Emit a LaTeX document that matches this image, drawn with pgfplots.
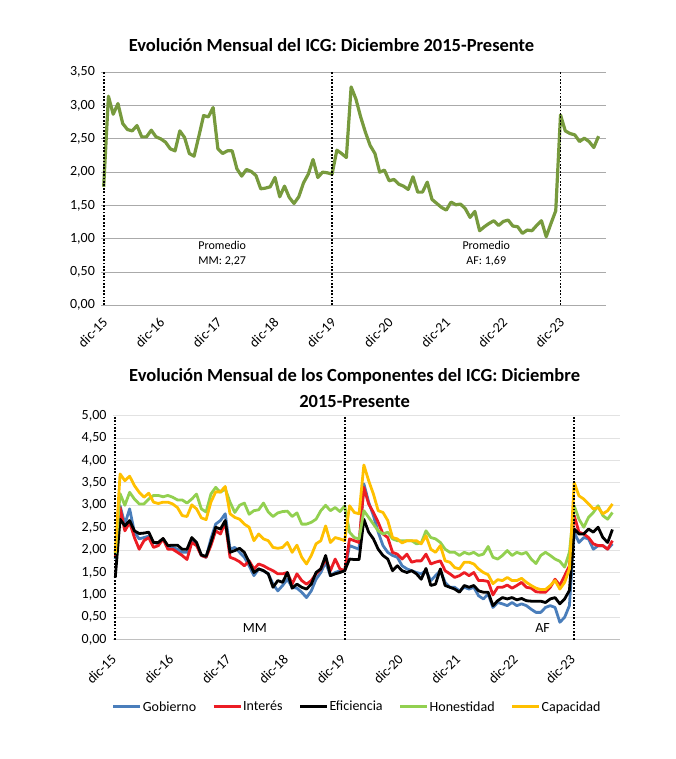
\documentclass[border=0pt]{standalone}
\usepackage{graphicx}
\usepackage{pgfplots}
\pgfplotsset{compat=1.18}
\usepackage{pgfplotstable}
\usepackage{fontspec}
\setmainfont{Carlito}

\definecolor{colicg}{RGB}{119,154,61}
\definecolor{colgob}{RGB}{74,126,187}
\definecolor{colint}{RGB}{236,28,36}
\definecolor{colhon}{RGB}{146,208,80}
\definecolor{colcap}{RGB}{255,192,0}
\definecolor{gridA}{RGB}{170,170,170}
\definecolor{gridB}{RGB}{226,226,226}

\pgfplotstableread{
m icg
0 1.78
1 3.14
2 2.87
3 3.03
4 2.73
5 2.64
6 2.62
7 2.70
8 2.53
9 2.53
10 2.63
11 2.53
12 2.50
13 2.45
14 2.35
15 2.32
16 2.62
17 2.52
18 2.28
19 2.24
20 2.54
21 2.85
22 2.83
23 2.97
24 2.35
25 2.28
26 2.32
27 2.32
28 2.05
29 1.94
30 2.04
31 2.01
32 1.95
33 1.75
34 1.76
35 1.78
36 1.92
37 1.63
38 1.79
39 1.62
40 1.53
41 1.63
42 1.84
43 1.97
44 2.19
45 1.92
46 2.00
47 1.99
48 1.97
49 2.33
50 2.28
51 2.22
52 3.28
53 3.10
54 2.83
55 2.60
56 2.40
57 2.28
58 2.00
59 2.03
60 1.87
61 1.89
62 1.82
63 1.79
64 1.74
65 1.93
66 1.70
67 1.70
68 1.85
69 1.59
70 1.53
71 1.47
72 1.43
73 1.55
74 1.51
75 1.52
76 1.45
77 1.32
78 1.41
79 1.12
80 1.18
81 1.23
82 1.27
83 1.20
84 1.26
85 1.28
86 1.19
87 1.18
88 1.08
89 1.13
90 1.12
91 1.20
92 1.27
93 1.03
94 1.23
95 1.42
96 2.86
97 2.62
98 2.58
99 2.56
100 2.46
101 2.51
102 2.46
103 2.37
104 2.54
}\icgdata

\pgfplotstableread{
m gob int efi hon cap
0 1.80 1.84 1.39 1.92 1.95
1 2.99 2.95 2.69 3.26 3.70
2 2.58 2.43 2.54 3.00 3.55
3 2.92 2.62 2.66 3.29 3.65
4 2.40 2.28 2.43 3.14 3.44
5 2.25 2.02 2.37 3.03 3.29
6 2.28 2.21 2.38 3.03 3.18
7 2.31 2.28 2.40 3.14 3.27
8 2.17 2.06 2.17 3.22 3.07
9 2.14 2.10 2.17 3.22 3.04
10 2.25 2.25 2.26 3.19 3.07
11 2.06 2.02 2.10 3.22 3.07
12 2.06 2.02 2.11 3.18 3.03
13 2.02 1.95 2.11 3.12 2.95
14 1.95 1.88 2.02 3.12 2.77
15 1.95 1.79 2.02 3.05 2.75
16 2.21 2.17 2.28 3.14 3.01
17 2.14 2.10 2.17 3.25 2.92
18 1.88 1.88 1.89 2.92 2.72
19 1.84 1.84 1.86 2.85 2.68
20 2.25 2.10 2.17 3.25 3.07
21 2.58 2.43 2.51 3.40 3.30
22 2.66 2.36 2.47 3.29 3.30
23 2.81 2.62 2.66 3.37 3.42
24 2.02 1.84 1.95 3.07 2.81
25 2.06 1.80 1.99 2.84 2.73
26 1.95 1.74 2.04 3.00 2.69
27 1.84 1.65 1.95 3.05 2.58
28 1.65 1.76 1.73 2.80 2.51
29 1.43 1.58 1.50 2.88 2.21
30 1.58 1.69 1.58 2.90 2.36
31 1.54 1.65 1.54 3.05 2.25
32 1.47 1.59 1.47 2.85 2.21
33 1.24 1.54 1.17 2.75 2.06
34 1.09 1.47 1.32 2.83 2.04
35 1.21 1.47 1.28 2.86 2.06
36 1.35 1.50 1.50 2.87 2.17
37 1.17 1.24 1.15 2.75 1.95
38 1.15 1.47 1.24 2.83 2.11
39 1.06 1.32 1.17 2.58 1.84
40 0.94 1.24 1.13 2.58 1.69
41 1.09 1.32 1.24 2.62 1.88
42 1.35 1.47 1.50 2.69 2.14
43 1.50 1.58 1.58 2.88 2.21
44 1.73 1.80 1.88 3.00 2.54
45 1.43 1.54 1.43 2.88 2.17
46 1.50 1.80 1.47 2.95 2.28
47 1.54 1.58 1.50 2.86 2.25
48 1.54 1.54 1.54 2.99 2.21
49 2.10 2.25 1.80 2.40 2.99
50 2.06 2.21 1.79 2.28 2.84
51 2.02 2.17 1.79 2.25 2.81
52 3.48 3.40 2.69 2.88 3.90
53 3.07 3.03 2.40 2.73 3.55
54 2.77 2.84 2.25 2.58 3.25
55 2.40 2.62 2.02 2.43 2.88
56 2.10 2.36 1.88 2.36 2.84
57 1.95 2.28 1.80 2.40 2.66
58 1.88 1.95 1.54 2.25 2.28
59 1.84 1.91 1.65 2.21 2.25
60 1.65 1.80 1.54 2.21 2.16
61 1.58 1.91 1.50 2.21 2.21
62 1.54 1.73 1.54 2.21 2.21
63 1.50 1.76 1.47 2.14 2.21
64 1.47 1.76 1.35 2.16 2.14
65 1.54 1.91 1.59 2.43 2.32
66 1.32 1.69 1.21 2.28 2.02
67 1.43 1.73 1.24 2.25 1.95
68 1.54 1.76 1.58 2.17 2.10
69 1.28 1.54 1.21 2.02 1.76
70 1.17 1.47 1.17 1.95 1.73
71 1.17 1.39 1.13 1.95 1.61
72 1.09 1.43 1.06 1.88 1.58
73 1.17 1.50 1.21 1.95 1.73
74 1.13 1.43 1.17 1.91 1.73
75 1.17 1.50 1.21 1.95 1.69
76 0.98 1.32 1.09 1.88 1.58
77 0.91 1.32 1.06 1.91 1.50
78 1.02 1.30 1.06 2.08 1.45
79 0.72 1.00 0.76 1.84 1.25
80 0.83 1.17 0.87 1.80 1.34
81 0.80 1.17 0.94 1.88 1.32
82 0.76 1.22 0.91 1.99 1.39
83 0.83 1.15 0.94 1.88 1.32
84 0.76 1.21 0.89 1.95 1.32
85 0.80 1.28 0.92 1.91 1.37
86 0.76 1.17 0.87 1.95 1.28
87 0.68 1.15 0.86 1.80 1.21
88 0.61 1.07 0.86 1.70 1.15
89 0.61 1.06 0.86 1.88 1.12
90 0.72 1.06 0.83 1.95 1.12
91 0.76 1.17 0.91 1.88 1.21
92 0.72 1.35 0.94 1.80 1.32
93 0.39 1.21 0.80 1.75 1.13
94 0.50 1.43 0.91 1.62 1.28
95 0.76 1.65 1.10 1.95 1.58
96 2.40 2.77 2.47 2.99 3.51
97 2.17 2.40 2.36 2.69 3.21
98 2.28 2.36 2.36 2.51 3.14
99 2.25 2.28 2.47 2.73 3.03
100 2.02 2.14 2.40 2.84 2.92
101 2.10 2.10 2.51 2.99 2.95
102 2.10 2.10 2.28 2.77 2.81
103 2.02 2.02 2.17 2.69 2.88
104 2.14 2.21 2.46 2.84 3.03
}\compdata

\tikzset{vline/.style={black, line width=1.8pt, dash pattern=on 1.8pt off 1.6pt}}
\newcommand{\rl}[1]{\rotatebox{45}{#1}}

\pgfplotsset{
  common/.style={
    scale only axis,
    xmin=-0.5, xmax=105.5,
    axis x line*=bottom, axis y line*=left,
    y axis line style={draw=none},
    ytick style={draw=none},
    xtick={0,12,24,36,48,60,72,84,96},
    xticklabels={\rl{dic-15},\rl{dic-16},\rl{dic-17},\rl{dic-18},\rl{dic-19},\rl{dic-20},\rl{dic-21},\rl{dic-22},\rl{dic-23}},
    xtick style={draw=none},
    minor xtick={-0.5,11.5,23.5,35.5,47.5,59.5,71.5,83.5,95.5},
    tick align=outside,
    minor tick length=5pt,
    ymajorgrids,
    /pgf/number format/assume math mode=true,
    yticklabel style={/pgf/number format/fixed, /pgf/number format/fixed zerofill,
      /pgf/number format/precision=2, /pgf/number format/use comma, inner sep=2pt},
    tick label style={font=\fontsize{14}{16}\selectfont},
  },
}

\begin{document}
\begin{tikzpicture}
\useasboundingbox (0,0) rectangle (675pt,759pt);
\fill[white] (0,0) rectangle (675pt,759pt);

\node[font=\bfseries\fontsize{18.5}{22}\selectfont] at (331.5pt,714pt)
  {Evolución Mensual del ICG: Diciembre 2015-Presente};

\begin{axis}[common,
  at={(101.3pt,453.7pt)}, anchor=south west,
  width=504.4pt, height=233pt,
  ymin=0, ymax=3.5, ytick={0,0.5,...,3.5},
  major grid style={gridA, line width=1pt},
  x axis line style={gridA, line width=1pt},
  minor x tick style={gridA, line width=1pt},
  x tick label style={anchor=north east, inner sep=0pt, xshift=5pt, yshift=-7pt},
]
\addplot[color=colicg, line width=3.2pt, line join=round] table[x=m, y=icg] {\icgdata};
\draw[vline] (axis cs:0,0) -- (axis cs:0,3.5);
\draw[vline] (axis cs:48,0) -- (axis cs:48,3.5);
\draw[vline] (axis cs:96,0) -- (axis cs:96,3.5);
\node[align=center, font=\fontsize{12}{15}\selectfont] at (axis cs:24.9,0.78) {Promedio\\MM: 2,27};
\node[align=center, font=\fontsize{12}{15}\selectfont] at (axis cs:80.4,0.78) {Promedio\\AF: 1,69};
\end{axis}

\node[font=\bfseries\fontsize{18.5}{26}\selectfont, align=center] at (354.6pt,371pt)
  {Evolución Mensual de los Componentes del ICG: Diciembre\\2015-Presente};

\begin{axis}[common,
  at={(112.9pt,119.3pt)}, anchor=south west,
  width=506.7pt, height=224pt,
  ymin=0, ymax=5, ytick={0,0.5,...,5},
  major grid style={gridB, line width=1pt},
  x axis line style={gridB!85!black, line width=1pt},
  minor x tick style={gridB!85!black, line width=1pt},
  x tick label style={anchor=north east, inner sep=0pt, xshift=2pt, yshift=-9pt},
  legend columns=5,
  legend cell align=left,
  legend style={at={(0.481,-0.30)}, anchor=center, draw=none, fill=none,
    font=\fontsize{14}{16}\selectfont,
    /tikz/every even column/.append style={column sep=15pt},
    nodes={inner sep=1pt}},
  legend image code/.code={\draw[#1, line width=3pt] (0pt,0pt) -- (27pt,0pt);},
]
\addplot[color=colgob, line width=2.8pt, line join=round] table[x=m, y=gob] {\compdata};
\addlegendentry{Gobierno}
\addplot[color=colint, line width=2.8pt, line join=round] table[x=m, y=int] {\compdata};
\addlegendentry{Interés}
\addplot[color=black, line width=2.8pt, line join=round] table[x=m, y=efi] {\compdata};
\addlegendentry{Eficiencia}
\addplot[color=colhon, line width=2.8pt, line join=round] table[x=m, y=hon] {\compdata};
\addlegendentry{Honestidad}
\addplot[color=colcap, line width=2.8pt, line join=round] table[x=m, y=cap] {\compdata};
\addlegendentry{Capacidad}
\draw[vline] (axis cs:0,0) -- (axis cs:0,5);
\draw[vline] (axis cs:48,0) -- (axis cs:48,5);
\draw[vline] (axis cs:96,0) -- (axis cs:96,5);
\node[font=\fontsize{14}{16}\selectfont] at (axis cs:29.2,0.25) {MM};
\node[font=\fontsize{14}{16}\selectfont] at (axis cs:89.4,0.25) {AF};
\end{axis}
\end{tikzpicture}
\end{document}
